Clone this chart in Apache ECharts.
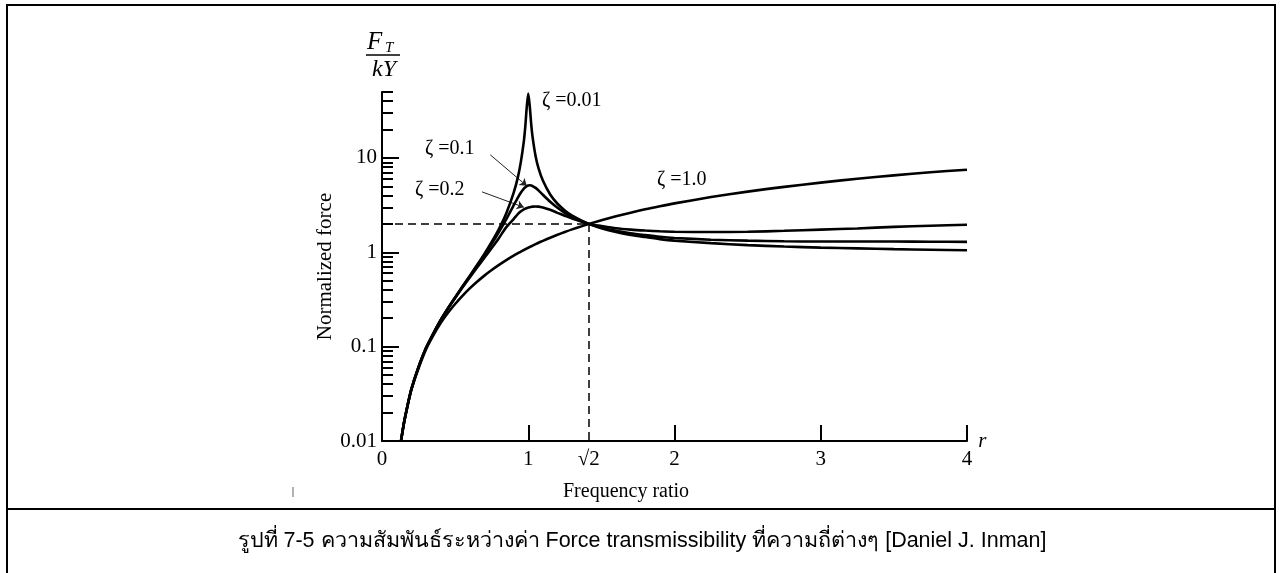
<!DOCTYPE html>
<html>
<head>
<meta charset="utf-8">
<script src="https://cdn.jsdelivr.net/npm/echarts@6/dist/echarts.min.js"></script>
<style>
  html, body { margin: 0; padding: 0; background: #fff; }
  #chart { width: 1283px; height: 573px; }
</style>
</head>
<body>
<div id="chart"></div>
<script>
// frequency ratio r, shared by all curves
var ratios = [0.13, 0.15, 0.17, 0.2, 0.25, 0.3, 0.35, 0.4, 0.45, 0.5, 0.55, 0.6, 0.65, 0.7, 0.75, 0.8, 0.85, 0.9, 0.93, 0.95, 0.97, 0.98, 0.99, 1.0, 1.01, 1.02, 1.03, 1.05, 1.07, 1.1, 1.15, 1.2, 1.25, 1.3, 1.414, 1.5, 1.6, 1.7, 1.8, 1.9, 2, 2.25, 2.5, 2.75, 3, 3.25, 3.5, 3.75, 4];
// normalized force F_T / kY
var zeta001 = [0.01, 0.0155, 0.022, 0.035, 0.061, 0.096, 0.137, 0.19, 0.254, 0.333, 0.434, 0.5625, 0.732, 0.961, 1.286, 1.778, 2.6, 4.26, 6.34, 9.2, 15.1, 21.7, 34.9, 48, 35.8, 23.0, 16.5, 10.5, 7.8, 5.76, 4.1, 3.27, 2.78, 2.45, 2.0, 1.8, 1.64, 1.53, 1.45, 1.38, 1.33, 1.25, 1.19, 1.15, 1.12, 1.10, 1.08, 1.065, 1.05];
var zeta01 = [0.01, 0.0155, 0.022, 0.035, 0.061, 0.096, 0.137, 0.19, 0.253, 0.332, 0.431, 0.557, 0.72, 0.936, 1.23, 1.645, 2.25, 3.145, 3.83, 4.3, 4.73, 4.89, 5.02, 5.1, 5.13, 5.11, 5.04, 4.82, 4.53, 4.07, 3.43, 2.96, 2.62, 2.37, 2.0, 1.83, 1.69, 1.59, 1.52, 1.46, 1.42, 1.36, 1.33, 1.31, 1.3, 1.3, 1.3, 1.295, 1.29];
var zeta02 = [0.01, 0.0155, 0.022, 0.035, 0.061, 0.096, 0.137, 0.19, 0.252, 0.328, 0.424, 0.542, 0.689, 0.875, 1.11, 1.42, 1.85, 2.25, 2.55, 2.72, 2.85, 2.9, 2.95, 2.98, 3.01, 3.03, 3.05, 3.06, 3.05, 2.98, 2.82, 2.62, 2.44, 2.28, 2.0, 1.9, 1.8, 1.74, 1.7, 1.67, 1.65, 1.64, 1.65, 1.69, 1.74, 1.79, 1.86, 1.91, 1.96];
var zeta10 = [0.01, 0.0154, 0.0218, 0.0345, 0.059, 0.093, 0.131, 0.177, 0.227, 0.283, 0.345, 0.414, 0.487, 0.566, 0.649, 0.736, 0.827, 0.922, 0.979, 1.019, 1.058, 1.078, 1.098, 1.118, 1.138, 1.158, 1.179, 1.22, 1.261, 1.323, 1.428, 1.534, 1.642, 1.75, 2.0, 2.19, 2.41, 2.63, 2.86, 3.08, 3.3, 3.85, 4.4, 4.94, 5.48, 6.01, 6.54, 7.06, 7.5];

var xLabelValues = [0, 1, Math.SQRT2, 2, 3, 4];
var xTickValues = [1, 2, 3, 4];
var yMajorValues = [0.01, 0.1, 1, 10];
var yMinorValues = [0.02, 0.03, 0.04, 0.05, 0.06, 0.07, 0.08, 0.09,
                    0.2, 0.3, 0.4, 0.5, 0.6, 0.7, 0.8, 0.9,
                    2, 3, 4, 5, 6, 7, 8, 9,
                    20, 30, 40, 50];

var serif = "'Liberation Serif', 'DejaVu Serif', serif";
var ink = '#000';

function pairs(ys) {
  return ratios.map(function (r, i) { return [r, ys[i]]; });
}

function curve(name, ys, extra) {
  var s = {
    name: name,
    type: 'line',
    data: pairs(ys),
    showSymbol: false,
    smooth: 0.25,
    lineStyle: { color: ink, width: 2.6 },
    z: 5
  };
  return Object.assign(s, extra || {});
}

function tag(text, x, y) {
  return {
    coord: [x, y],
    symbolSize: 0,
    label: {
      show: true, position: 'right', distance: 0,
      formatter: text, color: ink, fontFamily: serif, fontSize: 20
    }
  };
}

var leader = {
  silent: true,
  symbol: ['none', 'arrow'],
  symbolSize: 7,
  lineStyle: { color: '#222', width: 1, type: 'solid' },
  label: { show: false }
};

var chart = echarts.init(document.getElementById('chart'));
chart.setOption({
  animation: false,
  backgroundColor: '#fff',
  grid: { left: 382, right: 316, top: 92, bottom: 132 },
  xAxis: {
    type: 'value', min: 0, max: 4,
    axisLine: { lineStyle: { color: ink, width: 2 } },
    axisTick: { inside: true, length: 16, customValues: xTickValues, lineStyle: { color: ink, width: 2 } },
    axisLabel: {
      customValues: xLabelValues, margin: 8, color: ink, fontFamily: serif, fontSize: 21,
      formatter: function (v) { return Math.abs(v - Math.SQRT2) < 1e-3 ? '√2' : String(v); }
    },
    splitLine: { show: false },
    name: 'r', nameLocation: 'end', nameGap: 10,
    nameTextStyle: { color: ink, fontFamily: serif, fontSize: 21, fontStyle: 'italic' }
  },
  yAxis: [{
    type: 'log', min: 0.01, max: 50,
    axisLine: { lineStyle: { color: ink, width: 2 } },
    axisTick: { inside: true, length: 17, customValues: yMajorValues, lineStyle: { color: ink, width: 2 } },
    axisLabel: {
      customValues: yMajorValues, margin: 5, color: ink, fontFamily: serif, fontSize: 21,
      formatter: function (v) { return String(v); }
    },
    splitLine: { show: false },
    name: 'Normalized force', nameLocation: 'middle', nameGap: 45,
    nameTextStyle: { color: ink, fontFamily: serif, fontSize: 21 }
  }, {
    type: 'log', min: 0.01, max: 50, position: 'left',
    axisLine: { show: false },
    axisTick: { inside: true, length: 11, customValues: yMinorValues, lineStyle: { color: ink, width: 2 } },
    axisLabel: { show: false },
    splitLine: { show: false }
  }],
  series: [
    curve('ζ=0.01', zeta001, {
      markPoint: { silent: true, data: [tag('ζ =0.01', 1.094, 40)] }
    }),
    curve('ζ=0.1', zeta01, {
      markPoint: { silent: true, data: [tag('ζ =0.1', 0.294, 12.5)] },
      markLine: Object.assign({ data: [[{ coord: [0.74, 10.8] }, { coord: [0.99, 5.06] }]] }, leader)
    }),
    curve('ζ=0.2', zeta02, {
      markPoint: { silent: true, data: [tag('ζ =0.2', 0.226, 4.6)] },
      markLine: Object.assign({ data: [[{ coord: [0.684, 4.37] }, { coord: [0.97, 3.0] }]] }, leader)
    }),
    curve('ζ=1.0', zeta10, {
      markPoint: { silent: true, data: [tag('ζ =1.0', 1.88, 5.9)] },
      markLine: {
        silent: true, symbol: 'none',
        lineStyle: { color: ink, width: 1.5, type: [8, 5] },
        label: { show: false },
        data: [
          [{ coord: [0, 2] }, { coord: [Math.SQRT2, 2] }],
          [{ coord: [Math.SQRT2, 2] }, { coord: [Math.SQRT2, 0.01] }]
        ]
      }
    })
  ],
  graphic: [
    { type: 'rect', shape: { x: 7, y: 5, width: 1268, height: 620 }, style: { fill: 'none', stroke: ink, lineWidth: 2 } },
    { type: 'line', shape: { x1: 7, y1: 509, x2: 1275, y2: 509 }, style: { stroke: ink, lineWidth: 2 } },
    { type: 'line', shape: { x1: 293, y1: 487, x2: 293, y2: 497 }, style: { stroke: '#666', lineWidth: 1 } },
    // F_T / kY over the axis
    { type: 'text', x: 367, y: 42, style: { text: 'F', font: 'italic 25px ' + serif, fill: ink, verticalAlign: 'middle' } },
    { type: 'text', x: 385, y: 48, style: { text: 'T', font: 'italic 15px ' + serif, fill: ink, verticalAlign: 'middle' } },
    { type: 'line', shape: { x1: 366, y1: 55, x2: 400, y2: 55 }, style: { stroke: ink, lineWidth: 1.5 } },
    { type: 'text', x: 384, y: 70, style: { text: 'kY', font: 'italic 24px ' + serif, fill: ink, align: 'center', verticalAlign: 'middle' } },
    { type: 'text', x: 626, y: 492, style: { text: 'Frequency ratio', font: '20px ' + serif, fill: ink, align: 'center', verticalAlign: 'middle' } },
    { type: 'text', x: 642, y: 541, style: {
      text: 'รูปที่ 7-5 ความสัมพันธ์ระหว่างค่า Force transmissibility ที่ความถี่ต่างๆ [Daniel J. Inman]',
      font: "21.5px 'Liberation Sans', 'Noto Sans', 'DejaVu Sans', sans-serif", fill: ink, align: 'center', verticalAlign: 'middle'
    } }
  ]
});
</script>
</body>
</html>
